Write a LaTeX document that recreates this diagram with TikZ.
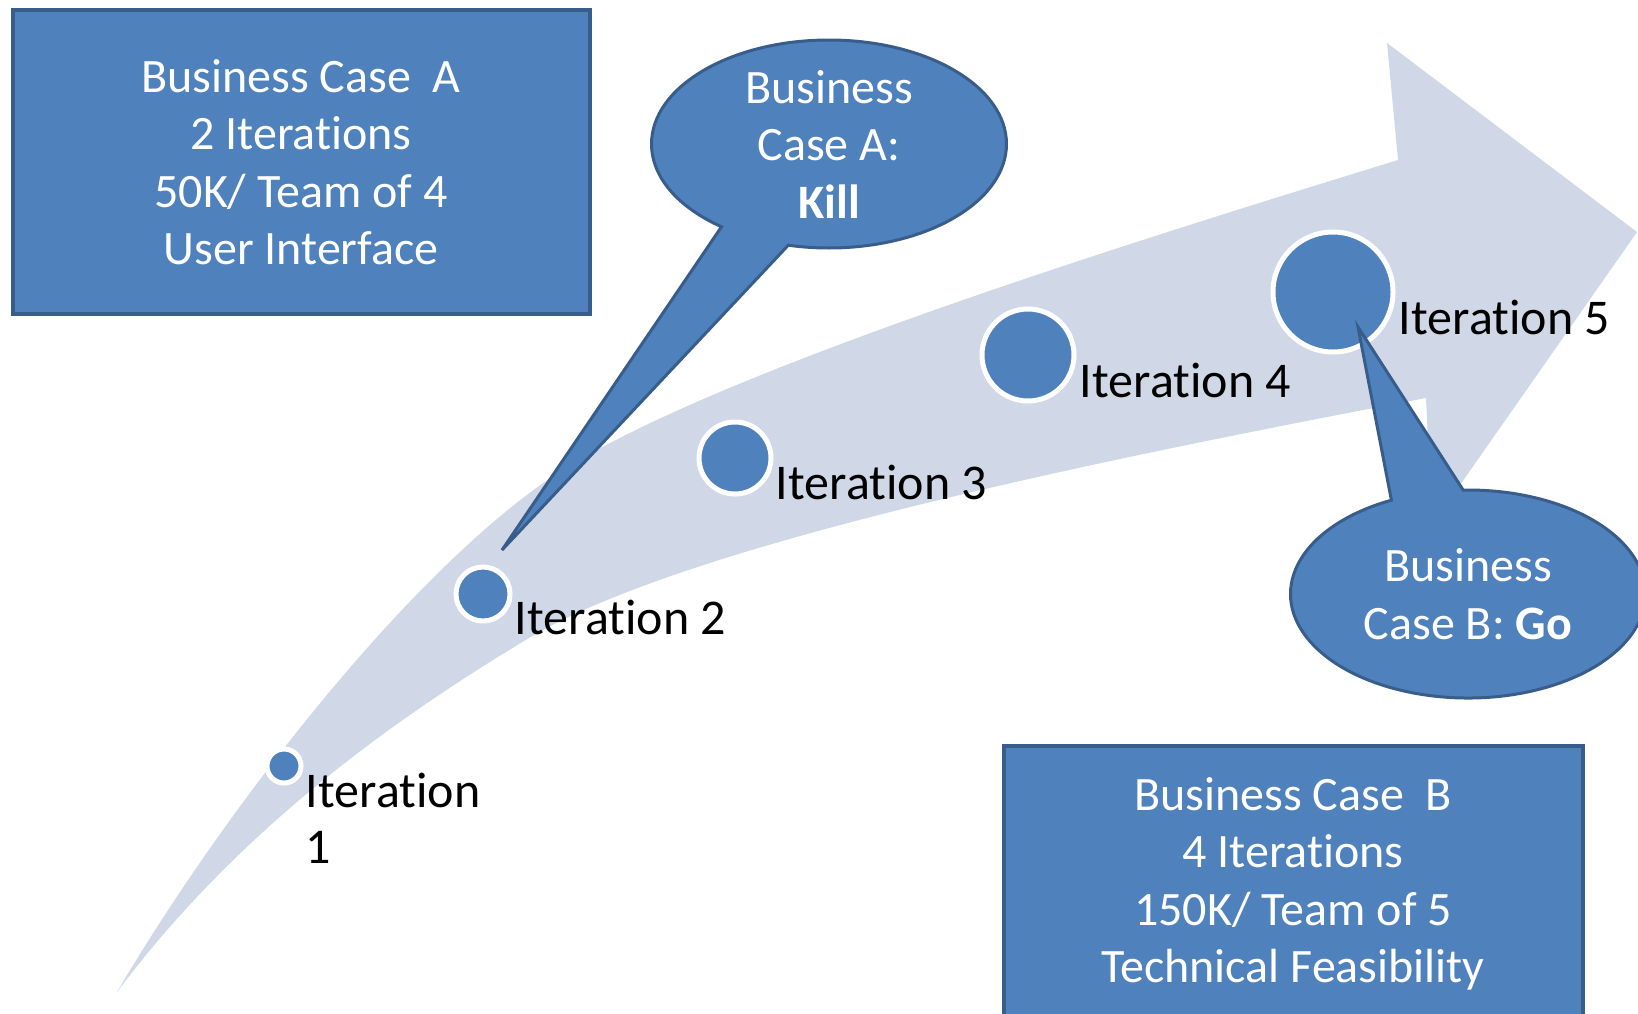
\documentclass[tikz,border=0pt]{standalone}
\usepackage{fontspec}
\setmainfont{Carlito}[Ligatures={NoCommon,NoContextual}]
\usetikzlibrary{shapes.callouts,positioning}
\definecolor{casefill}{HTML}{4F81BD}
\definecolor{caseline}{HTML}{385D8A}
\definecolor{arrowfill}{HTML}{D0D8E8}
\tikzset{
    case-box/.style = {draw=caseline, fill=casefill, line width=2pt, rectangle, text=white, align=center, font=\fontsize{24}{28.75}\selectfont},
    case-bubble/.style = {ellipse callout, draw=caseline, fill=casefill, line width=1.5pt, inner sep=0pt, minimum width=177.5pt, minimum height=104pt, callout pointer arc=24},
    bubble-text/.style = {text=white, align=center, font=\fontsize{24}{28.75}\selectfont},
    iter-dot/.style = {circle, draw=white, fill=casefill, line width=2.5pt, inner sep=0pt},
    iter-label/.style = {anchor=base west, inner sep=0pt, align=left, font=\fontsize{25}{28}\selectfont},
}
\begin{document}
\begin{tikzpicture}[x=0.5pt, y=-0.5pt]
\useasboundingbox (0,0) rectangle (1638,1013);
\clip (0,0) rectangle (1638,1013);

% the curved arrow
\fill[arrowfill] (117,992) .. controls (217,822) and (396,586) .. (546,481)
    .. controls (696,376) and (1148,237) .. (1398,160)
    -- (1387,43) -- (1637,232) -- (1432,525) -- (1426,398)
    .. controls (1126,455) and (689,542) .. (529,638)
    .. controls (389,722) and (237,832) .. cycle;

% iterations
\node[iter-dot, minimum size=17pt] (i1) at (284,766) {};
\node[iter-dot, minimum size=27pt] (i2) at (483,594) {};
\node[iter-dot, minimum size=36pt] (i3) at (735,458) {};
\node[iter-dot, minimum size=46pt] (i4) at (1028,355) {};
\node[iter-dot, minimum size=60pt] (i5) at (1333,292) {};

\node[iter-label] (l1) at ([shift={(2,97)}]i1.east) {Iteration\\1};
\node[iter-label] (l2) at ([shift={(2,40)}]i2.east) {Iteration 2};
\node[iter-label] (l3) at ([shift={(2,41)}]i3.east) {Iteration 3};
\node[iter-label] (l4) at ([shift={(3,42)}]i4.east) {Iteration 4};
\node[iter-label] (l5) at ([shift={(3,42)}]i5.east) {Iteration 5};

% decisions
\node[case-bubble, callout absolute pointer={([shift={(19,-44)}]i2.center)},
    label={[bubble-text]center:{Business\\Case A:\\\textbf{Kill}}}] (kill) at (829,144) {};
\node[case-bubble, callout absolute pointer={([shift={(25,35)}]i5.center)},
    label={[bubble-text]center:{Business\\Case B: \textbf{Go}}}] (go) at (1468,594) {};

% business cases
\node[case-box, minimum width=288.5pt, minimum height=152pt] (casea) at (301,162)
    {Business Case\ \ A\\2 Iterations\\50K/ Team of 4\\User Interface};
\node[case-box, minimum width=289.5pt, minimum height=138pt] (caseb) at (1293,884)
    {Business Case\ \ B\\4 Iterations\\150K/ Team of 5\\Technical Feasibility};
\end{tikzpicture}
\end{document}
